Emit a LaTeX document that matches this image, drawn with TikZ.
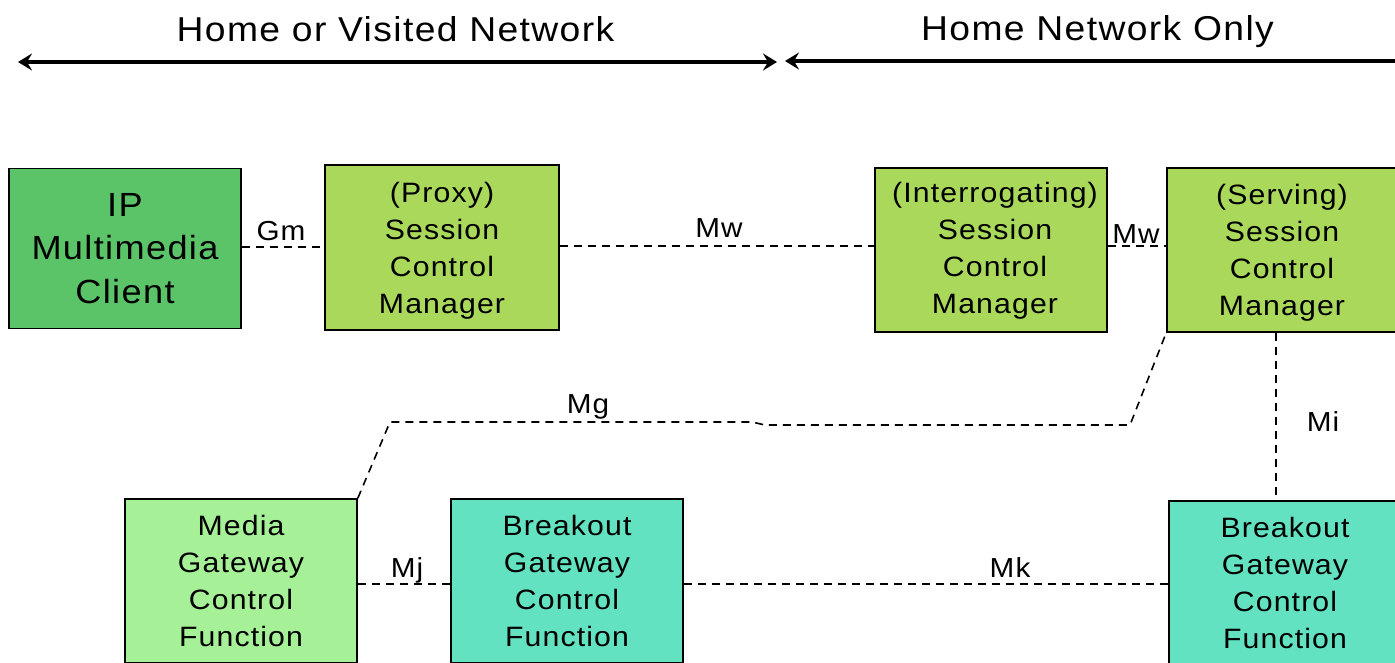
\documentclass[tikz,border=0pt]{standalone}
\usepackage{fontspec}
\setmainfont[FakeStretch=1.08,LetterSpace=4]{Liberation Sans}
\usetikzlibrary{arrows.meta}
\definecolor{ipgreen}{RGB}{92,196,104}
\definecolor{scmgreen}{RGB}{169,216,90}
\definecolor{mgcfgreen}{RGB}{166,240,152}
\definecolor{bgcfteal}{RGB}{98,226,192}
\tikzset{
  box/.style={draw=black, line width=1.6pt, minimum width=232pt, minimum height=163pt,
    align=center, inner sep=0pt, font=\fontsize{28}{37}\selectfont},
  boxtext/.style={inner sep=0pt, align=center, font=\fontsize{28}{37}\selectfont},
  conn/.style={draw=black, line width=1.6pt, dash pattern=on 8pt off 6pt},
  lbl/.style={font=\fontsize{27.5}{30}\selectfont, inner sep=0pt, anchor=base},
  hdr/.style={font=\fontsize{34.5}{38}\selectfont, inner sep=0pt, anchor=base},
  tip/.style={line width=4pt},
}
\begin{document}
\begin{tikzpicture}[x=1pt,y=-1pt]
\useasboundingbox (0,0) rectangle (1395,662);
\clip (0,0) rectangle (1395,662);
% headers
\node[hdr] (h1) at (395.5,41) {Home or Visited Network};
\node[hdr] (h2) at (1097.5,40) {Home Network Only};
\coordinate (a1l) at (18,62);
\coordinate (a1r) at (777,62);
\coordinate (a2l) at (785,61);
\coordinate (a2r) at (1400,61);
\draw[tip, {Stealth[length=14pt,width=17pt,inset=5pt]}-{Stealth[length=14pt,width=17pt,inset=5pt]}] (a1l) -- (a1r);
\draw[tip, {Stealth[length=14pt,width=17pt,inset=5pt]}-] (a2l) -- (a2r);
% boxes
\node[box, fill=ipgreen, minimum height=160pt, font=\fontsize{33.5}{43.5}\selectfont] (ip) at (125,248.5) {IP\\Multimedia\\Client};
\node[box, fill=scmgreen, minimum width=234pt, minimum height=165pt] (pscm) at (442,247.5) {};
\node[boxtext] (pscmt) at (442,250.5) {(Proxy)\\Session\\Control\\Manager};
\node[box, fill=scmgreen, minimum height=164pt] (iscm) at (991,250) {};
\node[boxtext] (iscmt) at (995,251) {(Interrogating)\\Session\\Control\\Manager};
\node[box, fill=scmgreen, minimum height=164pt] (sscm) at (1283,250) {};
\node[boxtext] (sscmt) at (1282,252.5) {(Serving)\\Session\\Control\\Manager};
\node[box, fill=mgcfgreen, minimum height=164pt] (mgcf) at (241,581) {Media\\Gateway\\Control\\Function};
\node[box, fill=bgcfteal, minimum height=164pt] (bgcf1) at (567,581) {Breakout\\Gateway\\Control\\Function};
\node[box, fill=bgcfteal, minimum height=164pt] (bgcf2) at (1285,583) {Breakout\\Gateway\\Control\\Function};
% connectors
\draw[conn] (ip.east |- 0,247) -- (pscm.west |- 0,247);
\draw[conn] (pscm.east |- 0,246) -- (iscm.west |- 0,246);
\draw[conn] (iscm.east |- 0,246) -- (sscm.west |- 0,246);
\draw[conn] (mgcf.north east) -- (390,422) -- (752,422) -- (765,425) -- (1130,425) -- (sscm.south west);
\draw[conn] (1276,0 |- sscm.south) -- (1276,0 |- bgcf2.north);
\draw[conn] (mgcf.east |- 0,584) -- (bgcf1.west |- 0,584);
\draw[conn] (bgcf1.east |- 0,584) -- (bgcf2.west |- 0,584);
% labels
\node[lbl] (gm) at (281,240) {Gm};
\node[lbl] (mw1) at (719,237) {Mw};
\node[lbl] (mw2) at (1136,243) {Mw};
\node[lbl] (mg) at (588,413) {Mg};
\node[lbl] (mi) at (1323,431) {Mi};
\node[lbl] (mj) at (407,577) {Mj};
\node[lbl] (mk) at (1010,577) {Mk};
\end{tikzpicture}
\end{document}
